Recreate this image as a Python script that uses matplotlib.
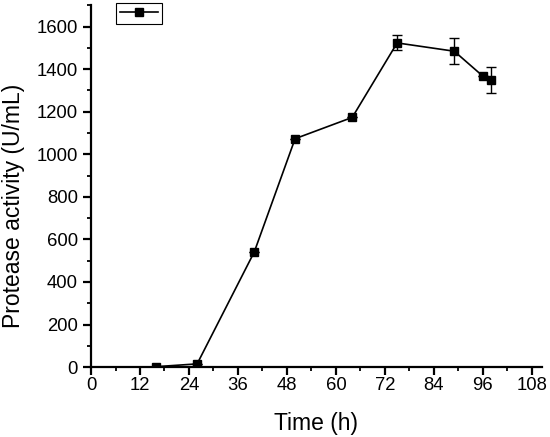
"""
Protease activity over fermentation time.
"""

import matplotlib
matplotlib.use("Agg")
import matplotlib.pyplot as plt
from matplotlib.lines import Line2D
from matplotlib.ticker import MultipleLocator

# data
time_h = [16, 26, 40, 50, 64, 75, 89, 96, 98]
activity = [2, 15, 541, 1073, 1173, 1523, 1484, 1367, 1347]
activity_err = [0, 0, 0, 0, 0, 35, 60, 0, 61]

x_ticks = [0, 12, 24, 36, 48, 60, 72, 84, 96, 108]
y_ticks = [0, 200, 400, 600, 800, 1000, 1200, 1400, 1600]

plt.rcParams['font.family'] = ['Liberation Sans', 'DejaVu Sans']

fig = plt.figure(figsize=(5.5, 4.37), dpi=100)
ax = fig.add_axes([0.1655, 0.160, 0.820, 0.828])

ax.errorbar(time_h, activity, yerr=activity_err, color='black',
            marker='s', markersize=6, linewidth=1.2,
            elinewidth=1.0, capsize=3.5, capthick=1.0, zorder=3)

ax.set_xlim(0, 110.5)
ax.set_ylim(0, 1700)
ax.set_xticks(x_ticks)
ax.set_yticks(y_ticks)
ax.xaxis.set_minor_locator(MultipleLocator(6))
ax.yaxis.set_minor_locator(MultipleLocator(100))

for side in ['top', 'right']:
    ax.spines[side].set_visible(False)
for side in ['left', 'bottom']:
    ax.spines[side].set_linewidth(1.6)

ax.tick_params(which='major', direction='out', length=5.8, width=1.6,
               labelsize=13.3)
ax.tick_params(which='minor', direction='out', length=3, width=1.3)
ax.tick_params(axis='x', which='major', pad=1.5)
ax.tick_params(axis='y', which='major', pad=3.5)

ax.set_xlabel('Time (h)', fontsize=16.5)
ax.set_ylabel('Protease activity (U/mL)', fontsize=16.5)
ax.xaxis.set_label_coords(0.499, -0.124)
ax.yaxis.set_label_coords(-0.146, 0.445)

# legend handle: line with square marker, no label text
handle = Line2D([], [], color='black', marker='s', markersize=6,
                linewidth=1.2)
leg = ax.legend([handle], [''], loc='upper left',
                bbox_to_anchor=(116 / 550, 1 - 3 / 437),
                bbox_transform=fig.transFigure, borderaxespad=0,
                fancybox=False, framealpha=1, edgecolor='black',
                handlelength=3.0, borderpad=0.35, handletextpad=0,
                fontsize=9)
leg.get_frame().set_linewidth(0.8)

fig.savefig('out.png', dpi=100)
